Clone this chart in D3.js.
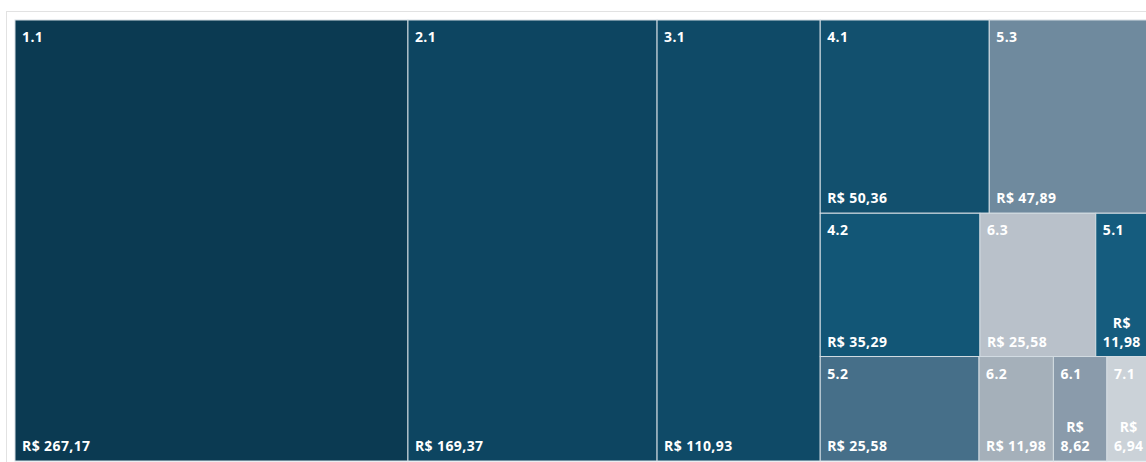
<!DOCTYPE html>
<html>
<head>
<meta charset="utf-8">
<script src="https://cdn.jsdelivr.net/npm/d3@7"></script>
<style>
  html, body { margin: 0; padding: 0; background: #ffffff; overflow: hidden; }
  svg { display: block; }
  text { font-family: "Open Sans", "Noto Sans", sans-serif; font-weight: 700; font-size: 14px; letter-spacing: 0.4px; fill: #ffffff; }
</style>
</head>
<body>
<svg id="chart" width="1146" height="462"></svg>
<script>
// Cost items and their totals (R$)
const categories = ["1.1", "2.1", "3.1", "4.1", "5.3", "4.2", "6.3", "5.1", "5.2", "6.2", "6.1", "7.1"];
const values     = [267.17, 169.37, 110.93, 50.36, 47.89, 35.29, 25.58, 11.98, 25.58, 11.98, 8.62, 6.94];
const fills      = ["#0b3a52", "#0d4561", "#0f4a67", "#12506e", "#6f8a9e", "#125676", "#b9c1ca",
                    "#155c7e", "#466f89", "#a5b0ba", "#8a9bab", "#cbd2d8"];

// Smaller items stacked in rows inside the last column
const stackedRows = [["4.1", "5.3"], ["4.2", "6.3", "5.1"], ["5.2", "6.2", "6.1", "7.1"]];

const brl = d3.formatLocale({ decimal: ",", thousands: ".", grouping: [3], currency: ["R$ ", ""] });
const money = brl.format("$,.2f");

const svg = d3.select("#chart");
const plotLeft = 15, plotTop = 20, plotW = 1135, plotH = 441;

// Outer panel frame
svg.append("rect")
  .attr("x", 6.5).attr("y", 11.5)
  .attr("width", 1160).attr("height", 470)
  .attr("fill", "#ffffff").attr("stroke", "#e2e2e2");

const items = categories.map((c, i) => ({ name: c, value: values[i], fill: fills[i] }));
const byName = new Map(items.map(d => [d.name, d]));
const stackedSet = new Set(stackedRows.flat());

const rootData = {
  children: [
    ...items.filter(d => !stackedSet.has(d.name)),
    { children: stackedRows.map(r => ({ children: r.map(n => byName.get(n)) })) }
  ]
};

const root = d3.hierarchy(rootData).sum(d => d.value || 0);
d3.treemap().tile(d3.treemapSliceDice).size([plotW, plotH]).round(false)(root);

const g = svg.append("g").attr("transform", `translate(${plotLeft},${plotTop})`);

const cells = g.selectAll("g.cell")
  .data(root.leaves())
  .join("g")
  .attr("class", "cell");

cells.append("rect")
  .attr("x", d => d.x0).attr("y", d => d.y0)
  .attr("width", d => d.x1 - d.x0).attr("height", d => d.y1 - d.y0)
  .attr("fill", d => d.data.fill)
  .attr("stroke", "#d3dce2").attr("stroke-width", 1);

const padX = 7, lineH = 19;

cells.each(function(d) {
  const cell = d3.select(this);
  const avail = d.x1 - d.x0 - 2 * padX;

  // Name in the top-left corner
  cell.append("text")
    .attr("x", d.x0 + padX)
    .attr("y", d.y0 + 22)
    .text(d.data.name);

  // Value at the bottom, wrapped word by word when it does not fit
  const label = money(d.value);
  const probe = cell.append("text").text(label);
  const full = probe.node().getComputedTextLength();
  probe.remove();
  const lines = full > avail ? label.split(" ") : [label];

  const widths = lines.map(t => {
    const p = cell.append("text").text(t);
    const w = p.node().getComputedTextLength();
    p.remove();
    return w;
  });
  const blockW = d3.max(widths);
  const cx = d.x0 + padX + blockW / 2;

  lines.forEach((t, i) => {
    cell.append("text")
      .attr("x", cx)
      .attr("y", d.y1 - 10 - (lines.length - 1 - i) * lineH)
      .attr("text-anchor", "middle")
      .text(t);
  });
});
</script>
</body>
</html>
